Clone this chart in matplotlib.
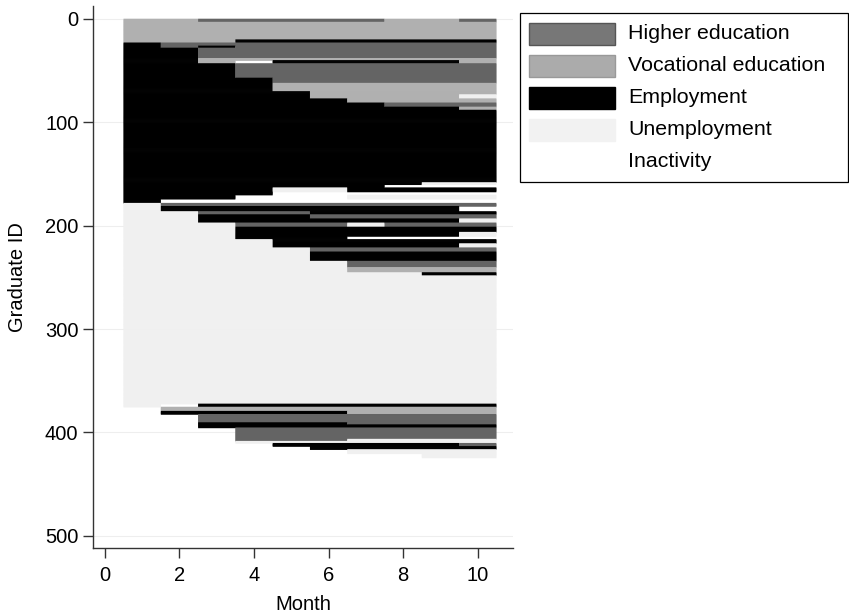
import matplotlib
matplotlib.use('Agg')
import matplotlib.pyplot as plt
from matplotlib.patches import Rectangle

plt.rcParams['font.family'] = ['Liberation Sans', 'DejaVu Sans']

# States: H higher edu, V vocational edu, E employment, U unemployment, I inactivity
state_codes = ['H', 'V', 'E', 'U', 'I']
state_labels = ['Higher education', 'Vocational education', 'Employment',
                'Unemployment', 'Inactivity']
state_colors = {'H': '#646464', 'V': '#b0b0b0', 'E': '#000000',
                'U': '#f0f0f0', 'I': '#ffffff'}
legend_fill = ['#777777', '#ababab', '#000000', '#f2f2f2', '#ffffff']
legend_edge = ['#555555', '#999999', '#000000', '#f2f2f2', '#ffffff']

months = list(range(1, 11))

# sequence patterns (one letter per month) and how many graduates follow each,
# in the order they appear from top to bottom
patterns = [
    'VVHHHHHVVH', 'VVVVVVVVVV', 'VVVEEEEEEE', 'EHHHHHHHHH', 'EHEHHHHHHH',
    'EEHHHHHHHH', 'EEVVVVVVVV', 'EEVIEEEEEV', 'EEEHHHHHHH', 'EEEEHHHHHH',
    'EEEEVVVVVV', 'EEEEEVVVVV', 'EEEEEVVVVU', 'EEEEEEVVVV', 'EEEEEEEHHH',
    'EEEEEEEEEV', 'EEEEEEEEEE', 'EEEEEEEEUU', 'EEEEEEEIII', 'EEEEUUEEEE',
    'EEEEIIIIII', 'EEEIIIUUUU', 'EIIIIIIIII', 'UHHHHHHHHH', 'UEEEEEEEEI',
    'UUHHHEEEEE', 'UUEEEHHHHH', 'UUEEEEEEEU', 'UUUHHHUHHH', 'UUUEEEEEEE',
    'UUUEEEEEEU', 'UUUEEEIIII', 'UUUUEEEEEE', 'UUUUEEEEEU', 'UUUUUHHHHH',
    'UUUUUEEEEE', 'UUUUUUHHHH', 'UUUUUUVVVV', 'UUUUUUUUEE', 'UUUUUUUUUU',
    'UIEEEEEEEE', 'IVVVVVVVVV', 'IEEEEEVVVV', 'IIHHHHHHHH', 'IIEEEEHHHH',
    'IIEEEEEEEE', 'IIIHHHHHHH', 'IIIHHHUUUU', 'IIIUUUUUUU', 'IIIIEEEEEH',
    'IIIIIEEEEE', 'IIIIIIUUUU', 'IIIIIIIIUU', 'IIIIIIIIII',
]
counts = [
    3, 17, 3, 3, 2,
    10, 2, 3, 14, 5,
    8, 3, 4, 4, 4,
    3, 70, 2, 3, 4,
    3, 4, 4, 3, 5,
    3, 4, 4, 4, 5,
    4, 3, 4, 4, 4,
    9, 6, 5, 3, 124,
    3, 4, 3, 8, 2,
    3, 11, 2, 2, 3,
    3, 4, 4, 86,
]

fig = plt.figure(figsize=(8.49, 6.15), dpi=100)
ax = fig.add_axes([0.1095, 0.109, 0.4945, 0.881])

# expand patterns into one row per graduate, draw runs of equal state
ys, x0s, x1s, cols = [], [], [], []
gid = 0
for pat, n in zip(patterns, counts):
    for _ in range(n):
        gid += 1
        start = 0
        for k in range(1, len(pat) + 1):
            if k == len(pat) or pat[k] != pat[start]:
                s = pat[start]
                if s != 'I':
                    ys.append(gid)
                    x0s.append(months[start] - 0.5)
                    x1s.append(months[k - 1] + 0.5)
                    cols.append(state_colors[s])
                start = k

seq_lines = ax.hlines(ys, x0s, x1s, colors=cols, linewidth=1.3, zorder=2)
seq_lines.set_snap(False)
seq_lines.set_capstyle('butt')

ax.set_xlim(-0.32, 10.94)
ax.set_ylim(511.6, -12)
ax.set_xticks([0, 2, 4, 6, 8, 10])
ax.set_yticks([0, 100, 200, 300, 400, 500])
ax.yaxis.grid(True, color='#eeeeee', linewidth=0.8, zorder=0)
ax.set_axisbelow(True)

for side in ['top', 'right']:
    ax.spines[side].set_visible(False)
for side in ['left', 'bottom']:
    ax.spines[side].set_color('#333333')
    ax.spines[side].set_linewidth(1.0)
ax.tick_params(direction='out', length=7, width=1.0, color='#333333',
               labelsize=14.5)
ax.tick_params(axis='x', pad=6)
ax.set_xlabel('Month', fontsize=14.5, labelpad=7)
ax.set_ylabel('Graduate ID', fontsize=14.5, labelpad=13)

# legend box drawn in pixel positions of the figure
W, H = 849, 615
def fx(px):
    return px / W
def fy(py):
    return 1 - py / H

fig.add_artist(Rectangle((fx(520), fy(182)), fx(848) - fx(520), (182 - 13) / H,
                         transform=fig.transFigure, facecolor='white',
                         edgecolor='black', linewidth=0.9))
for i, lab in enumerate(state_labels):
    cy = 33.5 + 32 * i
    fig.add_artist(Rectangle((fx(529), fy(cy + 11)), (615 - 529) / W, 22 / H,
                             transform=fig.transFigure, facecolor=legend_fill[i],
                             edgecolor=legend_edge[i], linewidth=1.0))
    fig.text(fx(628), fy(cy), lab, fontsize=15.4, va='center', ha='left')

fig.savefig('out.png', dpi=100)
